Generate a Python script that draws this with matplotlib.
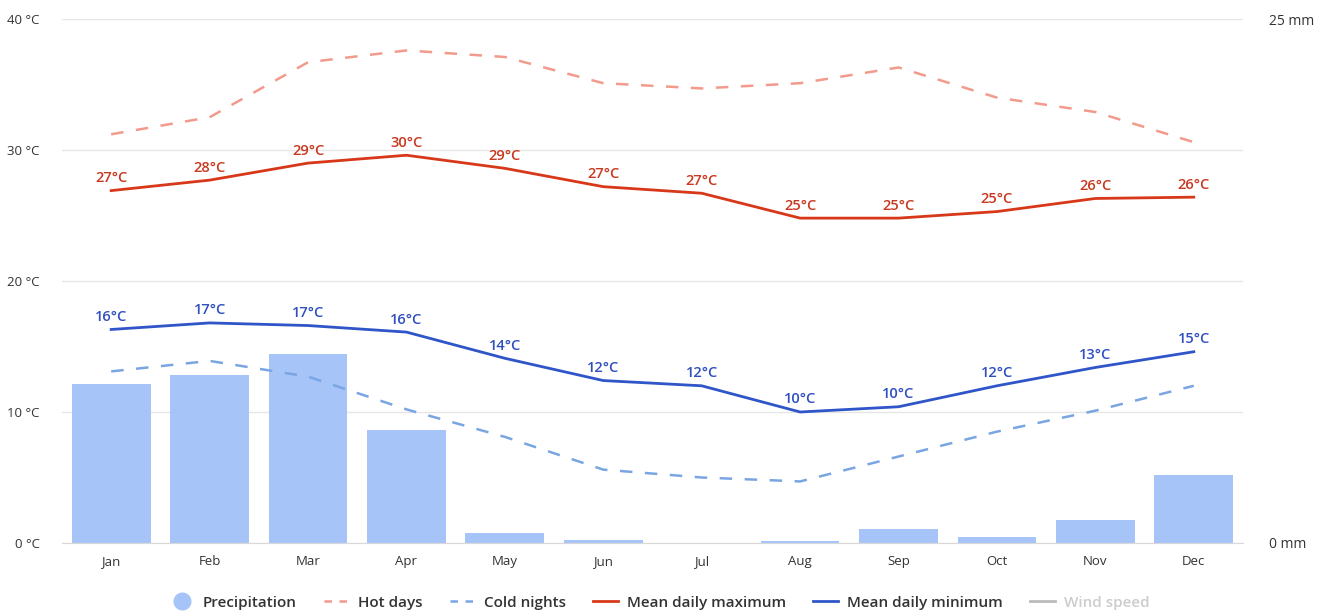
import matplotlib
matplotlib.use("Agg")
import matplotlib.pyplot as plt
from matplotlib.lines import Line2D
import numpy as np

plt.rcParams["font.family"] = ["Open Sans", "DejaVu Sans"]

# -------------------------------------------------------------------
# Data
# -------------------------------------------------------------------
months = ["Jan", "Feb", "Mar", "Apr", "May", "Jun",
          "Jul", "Aug", "Sep", "Oct", "Nov", "Dec"]
precip_mm = [7.6, 8.0, 9.0, 5.4, 0.5, 0.15, 0.0, 0.1, 0.65, 0.3, 1.1, 3.25]
hot_days = [31.2, 32.5, 36.7, 37.6, 37.1, 35.1, 34.7, 35.1, 36.3, 34.0, 32.9, 30.6]
mean_max = [26.9, 27.7, 29.0, 29.6, 28.6, 27.2, 26.7, 24.8, 24.8, 25.3, 26.3, 26.4]
mean_min = [16.3, 16.8, 16.6, 16.1, 14.1, 12.4, 12.0, 10.0, 10.4, 12.0, 13.4, 14.6]
cold_nights = [13.1, 13.9, 12.7, 10.2, 8.1, 5.6, 5.0, 4.7, 6.6, 8.5, 10.1, 12.0]

temp_ticks = [0, 10, 20, 30, 40]

# colours
c_bar = "#a7c4f8"
c_max = "#d8381a"
c_hot = "#f29a8c"
c_min = "#2f55c9"
c_cold = "#79a6e2"
c_text = "#333333"

x = np.arange(len(months))

fig = plt.figure(figsize=(13.27, 6.13), dpi=100)
pos = [0.0467, 0.1142, 0.89, 0.8548]

# precipitation axes (behind)
ax_p = fig.add_axes(pos)
ax_p.bar(x, precip_mm, width=0.8, color=c_bar, zorder=2)
ax_p.set_ylim(0, 25)
ax_p.set_xlim(-0.5, 11.5)
ax_p.set_yticks(np.linspace(0, 25, 5))
ax_p.set_yticklabels(["0 mm", "", "", "", "25 mm"])
ax_p.yaxis.tick_right()
ax_p.tick_params(axis="y", length=0, pad=19, labelsize=10, labelcolor=c_text)
ax_p.grid(axis="y", color="#e6e6e6", linewidth=1)
ax_p.set_axisbelow(True)
ax_p.set_xticks(x)
ax_p.set_xticklabels(months)
ax_p.tick_params(axis="x", length=0, pad=9, labelsize=9.5, labelcolor=c_text)
for s in ["top", "left", "right"]:
    ax_p.spines[s].set_visible(False)
ax_p.spines["bottom"].set_color("#d8d8d8")

# temperature axes (front)
ax_t = fig.add_axes(pos, sharex=ax_p)
ax_t.patch.set_visible(False)
ax_t.set_ylim(0, 40)
ax_t.set_yticks(temp_ticks)
ax_t.set_yticklabels([f"{t} °C" for t in temp_ticks])
ax_t.tick_params(axis="y", length=0, pad=16, labelsize=9.5, labelcolor=c_text)
ax_t.tick_params(axis="x", bottom=False, labelbottom=False)
for s in ax_t.spines.values():
    s.set_visible(False)

ax_t.plot(x, hot_days, color=c_hot, linewidth=1.8, dashes=(5, 5))
ax_t.plot(x, cold_nights, color=c_cold, linewidth=1.8, dashes=(5, 5))
ax_t.plot(x, mean_max, color=c_max, linewidth=2)
ax_t.plot(x, mean_min, color=c_min, linewidth=2)

for xi, v in zip(x, mean_max):
    ax_t.annotate(f"{v:.0f}°C", (xi, v), xytext=(0, 4), textcoords="offset points",
                  ha="center", va="bottom", fontsize=10.5, color="#c8381f",
                  fontweight="semibold")
for xi, v in zip(x, mean_min):
    ax_t.annotate(f"{v:.0f}°C", (xi, v), xytext=(0, 4), textcoords="offset points",
                  ha="center", va="bottom", fontsize=10.5, color="#2f4fbf",
                  fontweight="semibold")

# legend
handles = [
    Line2D([], [], linestyle="none", marker="o", markersize=12,
           markerfacecolor=c_bar, markeredgecolor=c_bar),
    Line2D([], [], color=c_hot, linewidth=1.8, dashes=(3, 3)),
    Line2D([], [], color=c_cold, linewidth=1.8, dashes=(3, 3)),
    Line2D([], [], color=c_max, linewidth=2),
    Line2D([], [], color=c_min, linewidth=2),
    Line2D([], [], color="#bbbbbb", linewidth=2),
]
labels = ["Precipitation", "Hot days", "Cold nights", "Mean daily maximum",
          "Mean daily minimum", "Wind speed"]
leg = fig.legend(handles, labels, loc="center", bbox_to_anchor=(0.497, 0.017),
                 ncol=6, frameon=False, fontsize=11, handlelength=1.6,
                 columnspacing=1.8, handletextpad=0.6)
for i, t in enumerate(leg.get_texts()):
    t.set_color("#cccccc" if i == 5 else c_text)
    t.set_fontweight("semibold")

fig.savefig("out.png", dpi=100)
